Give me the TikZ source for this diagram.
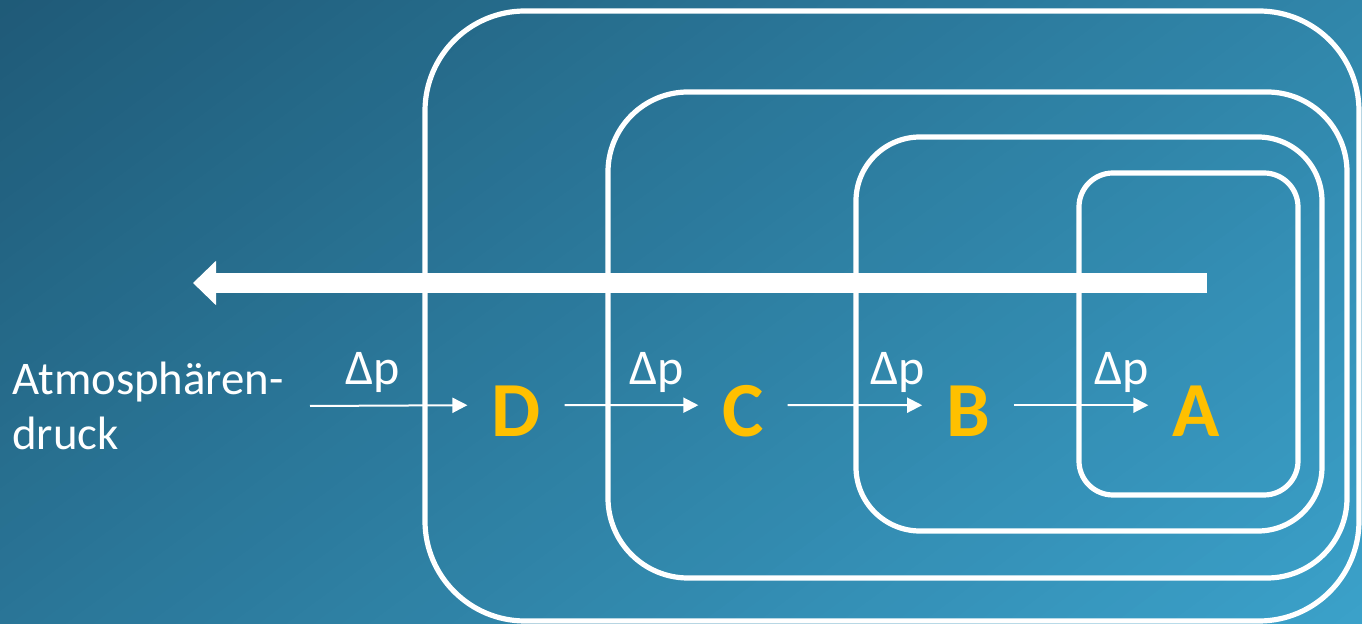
\documentclass[tikz,border=0pt]{standalone}
\usepackage{fontspec}
\setmainfont{Carlito}
\usetikzlibrary{arrows.meta}
\definecolor{bgA}{HTML}{1F5A77}
\definecolor{bgB}{HTML}{3BA1CA}
\definecolor{gold}{HTML}{FFC000}
\begin{document}
\begin{tikzpicture}[x=0.5pt,y=-0.5pt,
  box/.style={draw=white, line width=2.6pt},
  letter/.style={text=gold, font=\fontsize{39}{40}\selectfont\bfseries, inner sep=0pt, outer sep=12pt},
  lbl/.style={text=white, font=\fontsize{25}{27.5}\selectfont, inner sep=0pt},
  sarrow/.style={draw=white, line width=1pt, -{Triangle[length=7.5pt,width=7.5pt]}},
  bigarrow/.style={draw=white, line width=10pt, -{Triangle[length=11.5pt,width=21.5pt]}}]
\useasboundingbox (0,0) rectangle (1362,624);
% diagonal background gradient (stripes across the gradient direction)
\begin{scope}
  \clip (0,0) rectangle (1362,624);
  \begin{scope}[x={(0.29745pt,-0.4019pt)}, y={(-0.4019pt,-0.29745pt)}]
    \fill[bgA] (-400,-1600) -- (0,-1600) -- (0,1600) -- (-400,1600) -- cycle;
    \fill[bgB] (1312,-1600) -- (1800,-1600) -- (1800,1600) -- (1312,1600) -- cycle;
    \foreach \i in {0,...,79}{
      \pgfmathsetmacro\pc{1.25*\i+0.625}
      \pgfmathsetmacro\xa{16.4*\i-1}
      \pgfmathsetmacro\xb{16.4*\i+17.4}
      \fill[bgB!\pc!bgA] (\xa,-1600) -- (\xb,-1600) -- (\xb,1600) -- (\xa,1600) -- cycle;
    }
  \end{scope}
\end{scope}
% nested pressure zones
\draw[box, rounded corners=50pt] (425,11) rectangle (1359,621);
\draw[box, rounded corners=40pt] (608,92) rectangle (1347,578);
\draw[box, rounded corners=32pt] (856,137) rectangle (1322,531);
\draw[box, rounded corners=17pt] (1079,173) rectangle (1298,495);
% big arrow
\coordinate (bs) at (1207,283);
\coordinate (be) at (193,283);
\draw[bigarrow] (bs) -- (be);
% labels
\node[lbl, font=\fontsize{23.4}{27.5}\selectfont, anchor=base west, align=left] (atm) at (12,450) {Atmosphären-\\druck};
\node[letter, anchor=base] (D) at (516,437) {D};
\node[letter, anchor=base] (C) at (743,437) {C};
\node[letter, anchor=base] (B) at (968,437) {B};
\node[letter, anchor=base] (A) at (1196,437) {A};
\node[lbl, anchor=base] (dp1) at (373,385) {Δp};
\node[lbl, anchor=base] (dp2) at (657,385) {Δp};
\node[lbl, anchor=base] (dp3) at (898,385) {Δp};
\node[lbl, anchor=base] (dp4) at (1122,385) {Δp};
% small arrows
\coordinate (p0) at (310,406);
\draw[sarrow] (p0) -- ([yshift=3.25pt]D.west);
\draw[sarrow] ([yshift=3.25pt]D.east) -- ([yshift=3.25pt]C.west);
\draw[sarrow] ([yshift=3.25pt]C.east) -- ([yshift=3.25pt]B.west);
\draw[sarrow] ([yshift=3.25pt]B.east) -- ([yshift=3.25pt]A.west);
\end{tikzpicture}
\end{document}
